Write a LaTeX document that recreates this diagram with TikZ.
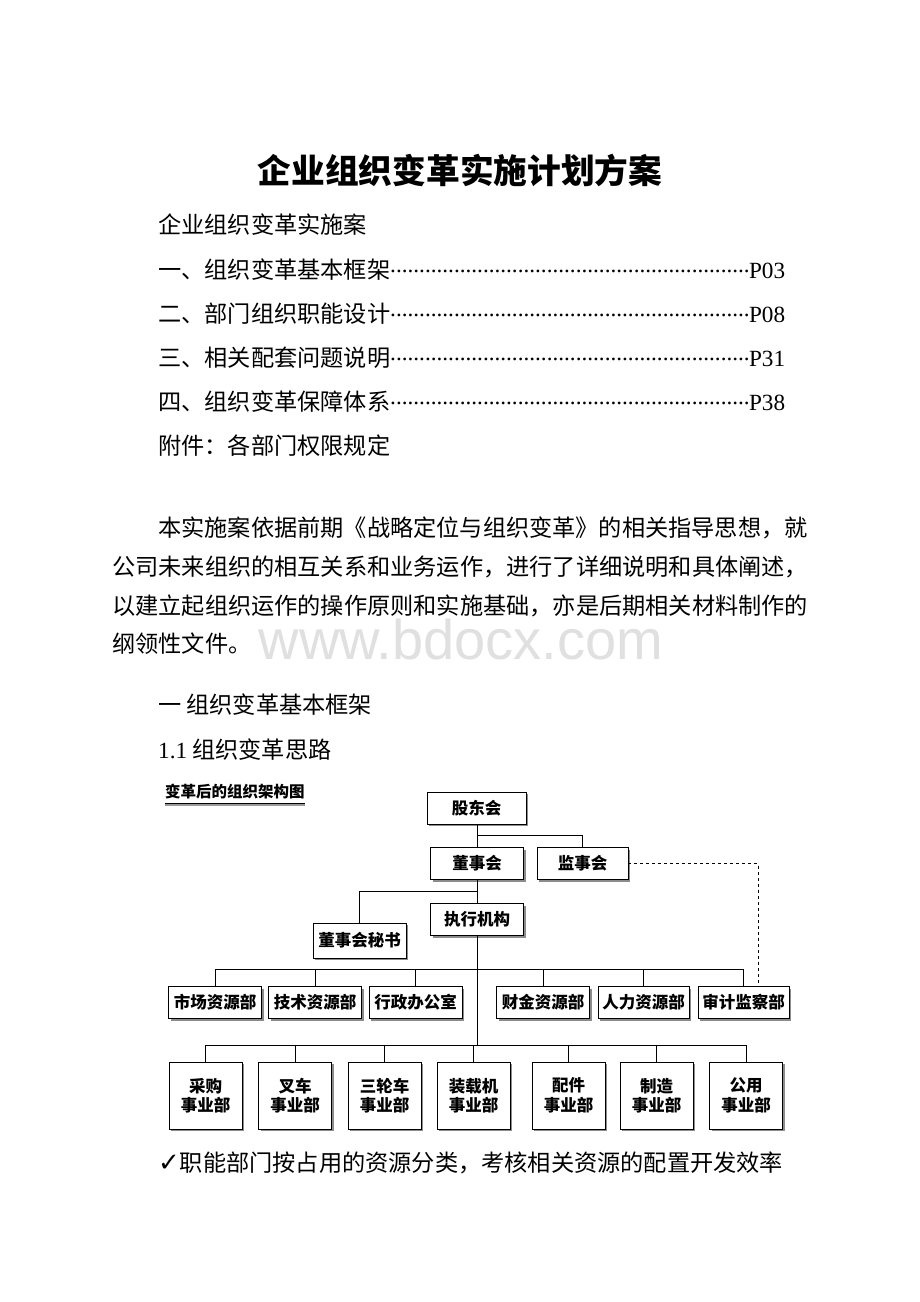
\documentclass[tikz,border=0pt]{standalone}
\usepackage{fontspec}
\setmainfont{Liberation Serif}
\newfontfamily\cjk{Noto Sans CJK SC}
\newfontfamily\wmfont{Liberation Sans}
\newfontfamily\symfont{DejaVu Sans}
\usetikzlibrary{shadows}
\tikzset{
  orgbox/.style={draw, line width=0.9pt, fill=white, inner sep=0pt,
    minimum width=93pt, minimum height=32pt,
    font=\cjk\bfseries\fontsize{16.5}{19.5}\selectfont,
    drop shadow={shadow xshift=2pt, shadow yshift=-2pt, fill=black!45, opacity=1}},
  unitbox/.style={orgbox, minimum width=73pt, minimum height=67pt, align=center},
  link/.style={line width=0.7pt},
  bodytext/.style={anchor=west, inner sep=0pt, font=\cjk\fontsize{23.2}{28}\selectfont},
}
\newcommand{\tocdots}{\leaders\hbox to 5.8pt{\hss\raisebox{6pt}{\rmfamily.}\hss}\hfill}
\begin{document}
\begin{tikzpicture}[x=1pt,y=-1pt]
\useasboundingbox[fill=white] (0,0) rectangle (920,1302);
% title and contents
\node[font=\cjk\bfseries\fontsize{33.7}{40}\selectfont] (title) at (460,170) {企业组织变革实施计划方案};
\node[bodytext] (sub) at (158,225) {企业组织变革实施案};
\node[bodytext] (toc1) at (158,270) {\makebox[627pt][l]{一、组织变革基本框架\tocdots\kern-2pt{\rmfamily P03}}};
\node[bodytext] (toc2) at (158,314) {\makebox[627pt][l]{二、部门组织职能设计\tocdots\kern-2pt{\rmfamily P08}}};
\node[bodytext] (toc3) at (158,358) {\makebox[627pt][l]{三、相关配套问题说明\tocdots\kern-2pt{\rmfamily P31}}};
\node[bodytext] (toc4) at (158,402) {\makebox[627pt][l]{四、组织变革保障体系\tocdots\kern-2pt{\rmfamily P38}}};
\node[bodytext] (annex) at (158,446) {附件：各部门权限规定};
% paragraph
\node[bodytext] (para1) at (158,528) {本实施案依据前期《战略定位与组织变革》的相关指导思想，就};
\node[bodytext] (para2) at (112,567) {公司未来组织的相互关系和业务运作，进行了详细说明和具体阐述，};
\node[bodytext] (para3) at (112,606) {以建立起组织运作的操作原则和实施基础，亦是后期相关材料制作的};
\node[bodytext] (para4) at (112,644) {纲领性文件。};
\node[text=black!12, inner sep=0pt, font=\wmfont\fontsize{56}{60}\selectfont] (wm) at (461,639) {www.bdocx.com};
\node[bodytext] (sec1) at (158,705) {一 组织变革基本框架};
\node[bodytext] (sec11) at (158,750) {{\rmfamily 1.1} 组织变革思路};
% chart caption
\node[anchor=west, inner sep=0pt, font=\cjk\bfseries\fontsize{15.5}{18}\selectfont] (caption) at (165,792) {变革后的组织架构图};
\draw[black!40, line width=2pt] ([yshift=-5.5pt]caption.south west) -- ([yshift=-5.5pt]caption.south east);
\draw[line width=1.2pt] ([yshift=-4pt]caption.south west) -- ([yshift=-4pt]caption.south east);
% chart boxes
\node[orgbox, minimum width=99pt] (gd) at (476.5,808) {股东会};
\node[orgbox] (dsh) at (477,863.5) {董事会};
\node[orgbox, minimum width=91pt] (jsh) at (582.5,863.5) {监事会};
\node[orgbox] (zx) at (477,919.5) {执行机构};
\node[orgbox, minimum height=35pt] (mish) at (359.5,940.5) {董事会秘书};
\node[orgbox] (sc) at (215,1002.5) {市场资源部};
\node[orgbox] (js) at (315,1002.5) {技术资源部};
\node[orgbox] (xz) at (415.5,1002.5) {行政办公室};
\node[orgbox] (cj) at (543,1002.5) {财金资源部};
\node[orgbox, minimum width=91pt] (rl) at (643.5,1002.5) {人力资源部};
\node[orgbox, minimum width=91pt] (sj) at (743.5,1002.5) {审计监察部};
\node[unitbox] (cg) at (205.5,1095.5) {采购\\事业部};
\node[unitbox] (cc) at (295,1095.5) {叉车\\事业部};
\node[unitbox] (slc) at (384.5,1095.5) {三轮车\\事业部};
\node[unitbox] (zzj) at (473.5,1095.5) {装载机\\事业部};
\node[unitbox] (pj) at (568.5,1095.5) {配件\\事业部};
\node[unitbox] (zz) at (656.5,1095.5) {制造\\事业部};
\node[unitbox] (gy) at (746,1095.5) {公用\\事业部};
% connectors
\coordinate (bus0) at (477,835);
\coordinate (bus1) at (477,891);
\coordinate (bus2) at (477,969);
\coordinate (bus3) at (477,1045);
\coordinate (dcorner) at (758,863.5);
\draw[link] (gd.south -| bus0) -- (dsh.north);
\draw[link] (bus0) -| (jsh.north);
\draw[link] (dsh.south) -- (zx.north);
\draw[link] (bus1) -| (mish.north);
\draw[link] (zx.south) -- (bus3);
\draw[link] (sc.north |- bus2) -- (sj.north |- bus2);
\foreach \n in {sc,js,xz,cj,rl,sj}
  \draw[link] (\n.north) -- (\n.north |- bus2);
\draw[link] (cg.north |- bus3) -- (gy.north |- bus3);
\foreach \n in {cg,cc,slc,zzj,pj,zz,gy}
  \draw[link] (\n.north) -- (\n.north |- bus3);
\draw[link, dashed] (jsh.east) -- (dcorner) -- (dcorner |- sj.north);
% closing line
\node[bodytext] (note) at (158,1163) {{\symfont\fontsize{26}{28}\selectfont ✓}职能部门按占用的资源分类，考核相关资源的配置开发效率};
\end{tikzpicture}
\end{document}
